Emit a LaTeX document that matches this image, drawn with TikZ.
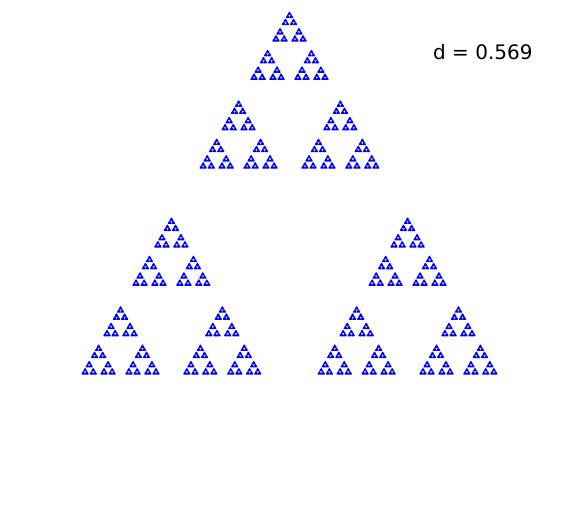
\documentclass[tikz,border=0pt]{standalone}
\usepackage{fontspec}
\newfontfamily\labfont{DejaVu Sans}
\usetikzlibrary{positioning}
\definecolor{DotBlue}{RGB}{0, 0, 255}

% ratio of the three copies (1 - d) and height factor of the triangle
\newcommand\ratio{0.431}
\newcommand\hfac{0.872}

% depth, left x, base y, side
\newcommand\gasket[4]{%
    \ifnum#1=0
        \filldraw[dot] (#2,#3) -- ++(#4,0) -- ++(-#4/2,-#4*\hfac) -- cycle;
    \else
        \begingroup
        \edef\px{#2}\edef\py{#3}\edef\side{#4}%
        \pgfmathtruncatemacro\dd{#1-1}
        \pgfmathsetmacro\ss{\side*\ratio}
        \pgfmathsetmacro\xr{\px+\side-\ss}
        \pgfmathsetmacro\xm{\px+(\side-\ss)/2}
        \pgfmathsetmacro\ym{\py-(\side-\ss)*\hfac}
        \gasket{\dd}{\px}{\py}{\ss}
        \gasket{\dd}{\xr}{\py}{\ss}
        \gasket{\dd}{\xm}{\ym}{\ss}
        \endgroup
    \fi}

\begin{document}
\begin{tikzpicture}[
        x = 1pt, y = -1pt,
        dot/.style = {DotBlue, line width = 1.1pt, line join = round},
        lab/.style = {font = \labfont\fontsize{20}{24}\selectfont, anchor = base west, inner sep = 0pt}
    ]
    \useasboundingbox (0,0) rectangle (576,504);

    \gasket{6}{82}{374}{415}

    \node[lab] (dval) at (433,59) {d = 0.569};
\end{tikzpicture}
\end{document}
